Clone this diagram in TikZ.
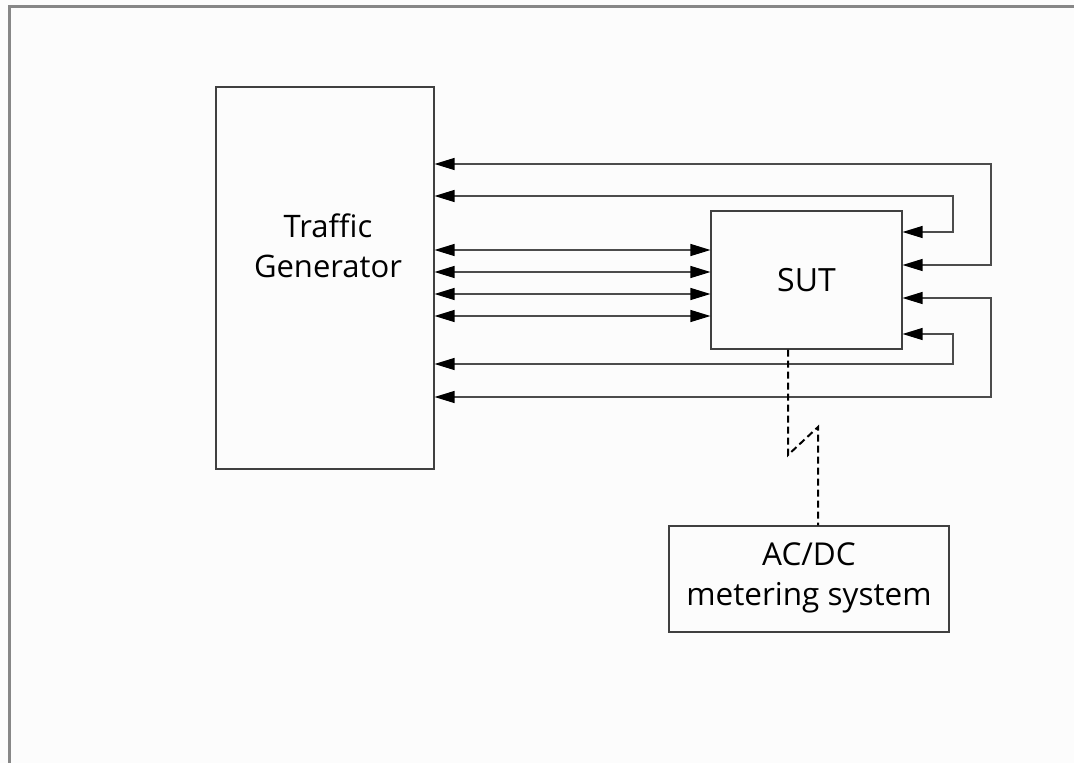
\documentclass[tikz,border=0pt]{standalone}
\usepackage{fontspec}
\setmainfont{Open Sans}
\usetikzlibrary{arrows.meta}
\tikzset{
  box/.style={draw=black!75, line width=1.1pt, inner sep=0pt},
  lbl/.style={align=center, inner sep=0pt},
  arr2/.style={draw=black!70, line width=1.2pt, {Triangle[length=20pt,width=12pt,color=black]}-{Triangle[length=20pt,width=12pt,color=black]}},
  dsh/.style={draw=black, line width=2pt, dash pattern=on 7pt off 4pt},
  frame/.style={draw=black!47, line width=3pt}
}
\begin{document}
\begin{tikzpicture}[x=1pt,y=-1pt]
\useasboundingbox (0,0) rectangle (1074,763);
\fill[white!99!black] (0,0) rectangle (1074,763);
\draw[frame] (9.5,763) -- (9.5,6) -- (1074,6);
% boxes
\node[box, minimum width=218pt, minimum height=382pt] (tg) at (325,278) {};
\node[lbl, font=\fontsize{31}{40}\selectfont] (tgl) at (328,246) {Traffic\\Generator};
\node[box, minimum width=191pt, minimum height=138pt, font=\fontsize{32}{38}\selectfont] (sut) at (806.5,280) {SUT};
\node[box, minimum width=280pt, minimum height=106pt, align=center] (meter) at (809,579) {};
\node[lbl, font=\fontsize{31.5}{40}\selectfont] (meterl) at (809,578) {AC/DC\\metering system};
% outer loops
\draw[arr2] (tg.east |- 0,164) -- (991,164) |- (sut.east |- 0,265);
\draw[arr2] (tg.east |- 0,196) -- (953,196) |- (sut.east |- 0,232);
\draw[arr2] (tg.east |- 0,364) -- (953,364) |- (sut.east |- 0,334);
\draw[arr2] (tg.east |- 0,397) -- (991,397) |- (sut.east |- 0,298);
% direct links
\draw[arr2] (tg.east |- 0,250) -- (sut.west |- 0,250);
\draw[arr2] (tg.east |- 0,272) -- (sut.west |- 0,272);
\draw[arr2] (tg.east |- 0,294) -- (sut.west |- 0,294);
\draw[arr2] (tg.east |- 0,316) -- (sut.west |- 0,316);
% dashed link
\coordinate (d1) at (788,455);
\coordinate (d2) at (818,427);
\draw[dsh] (sut.south -| d1) -- (d1) -- (d2) -- (meter.north -| d2);
\end{tikzpicture}
\end{document}
